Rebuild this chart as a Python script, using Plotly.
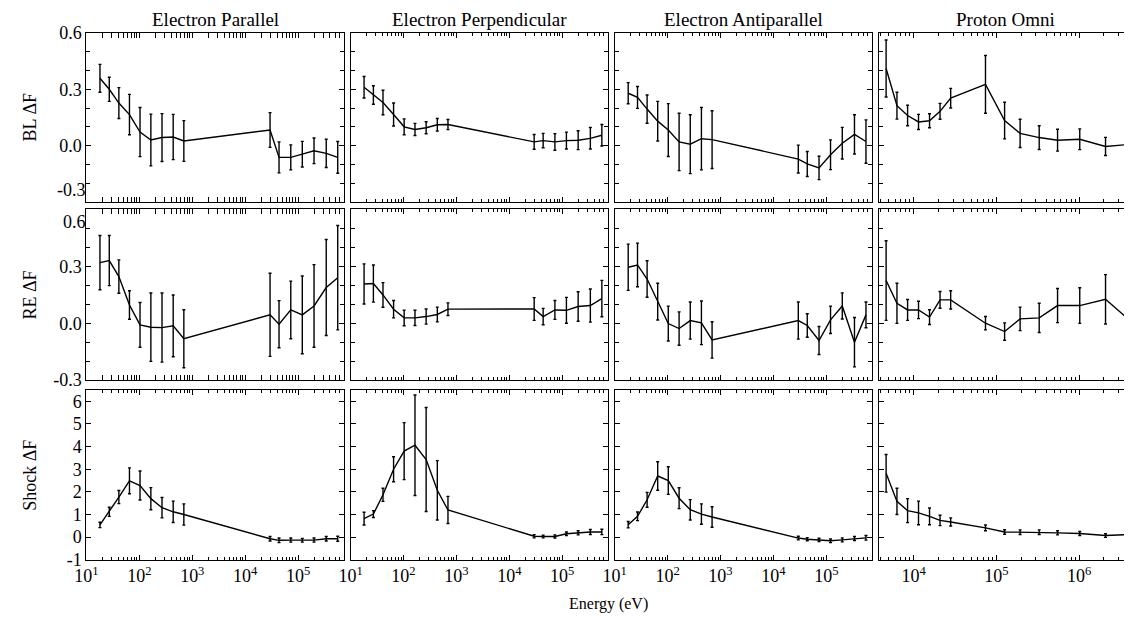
import plotly.graph_objects as go

# energy channels (eV)
e_electron = [18, 27, 41, 65, 103, 165, 268, 436, 693,
              29500, 43600, 72700, 120000, 200000, 340000, 561000]
e_proton = [4660, 6300, 8470, 11480, 15600, 20900, 28100, 74000,
            126000, 194000, 330000, 550000, 1020000, 2090000, 4370000]

col_titles = ["Electron Parallel", "Electron Perpendicular", "Electron Antiparallel", "Proton Omni"]
row_labels = ["BL \u0394F", "RE \u0394F", "Shock \u0394F"]

# BL
bl_par = [0.358, 0.300, 0.227, 0.166, 0.073, 0.031, 0.044, 0.047, 0.026,
          0.084, -0.061, -0.061, -0.044, -0.026, -0.040, -0.061]
bl_par_err = [0.074, 0.064, 0.082, 0.107, 0.130, 0.137, 0.127, 0.120, 0.108,
              0.092, 0.082, 0.066, 0.068, 0.068, 0.075, 0.084]
bl_perp = [0.311, 0.270, 0.230, 0.166, 0.101, 0.087, 0.096, 0.112, 0.113,
           0.021, 0.028, 0.021, 0.028, 0.030, 0.040, 0.056]
bl_perp_err = [0.057, 0.049, 0.065, 0.061, 0.042, 0.032, 0.032, 0.033, 0.027,
               0.039, 0.038, 0.044, 0.045, 0.050, 0.057, 0.057]
bl_anti = [0.279, 0.257, 0.195, 0.131, 0.084, 0.021, 0.009, 0.038, 0.033,
           -0.070, -0.096, -0.117, -0.047, 0.014, 0.061, 0.023]
bl_anti_err = [0.056, 0.058, 0.075, 0.105, 0.140, 0.152, 0.156, 0.165, 0.153,
               0.074, 0.066, 0.062, 0.079, 0.084, 0.104, 0.115]
bl_proton = [0.410, 0.213, 0.161, 0.127, 0.133, 0.183, 0.253, 0.326,
             0.134, 0.066, 0.044, 0.030, 0.035, -0.003, 0.009]
bl_proton_err = [0.151, 0.071, 0.054, 0.040, 0.037, 0.042, 0.052, 0.153,
                 0.097, 0.075, 0.063, 0.058, 0.055, 0.048, 0.050]

# RE
re_par = [0.319, 0.330, 0.246, 0.096, -0.009, -0.021, -0.023, -0.014, -0.082,
          0.044, -0.005, 0.070, 0.044, 0.091, 0.188, 0.240]
re_par_err = [0.143, 0.132, 0.088, 0.075, 0.118, 0.180, 0.182, 0.163, 0.153,
              0.219, 0.124, 0.152, 0.205, 0.218, 0.253, 0.275]
re_perp = [0.207, 0.209, 0.149, 0.074, 0.028, 0.028, 0.035, 0.046, 0.074,
           0.075, 0.035, 0.070, 0.068, 0.088, 0.093, 0.130]
re_perp_err = [0.106, 0.098, 0.065, 0.046, 0.041, 0.040, 0.040, 0.039, 0.033,
               0.060, 0.043, 0.050, 0.068, 0.078, 0.087, 0.096]
re_anti = [0.295, 0.307, 0.233, 0.114, -0.002, -0.028, 0.014, 0.002, -0.088,
           0.014, -0.012, -0.091, 0.018, 0.091, -0.100, 0.044]
re_anti_err = [0.122, 0.115, 0.096, 0.097, 0.092, 0.088, 0.098, 0.115, 0.096,
               0.098, 0.062, 0.074, 0.072, 0.069, 0.130, 0.068]
re_proton = [0.225, 0.105, 0.070, 0.070, 0.032, 0.123, 0.123, 0.000,
             -0.044, 0.023, 0.028, 0.093, 0.093, 0.126, 0.005]
re_proton_err = [0.210, 0.106, 0.055, 0.046, 0.039, 0.044, 0.048, 0.035,
                 0.046, 0.062, 0.077, 0.090, 0.094, 0.130, 0.102]

# Shock
shock_par = [0.54, 1.12, 1.77, 2.49, 2.28, 1.70, 1.30, 1.12, 1.00,
             -0.07, -0.14, -0.13, -0.14, -0.13, -0.07, -0.07]
shock_par_err = [0.12, 0.20, 0.29, 0.57, 0.64, 0.49, 0.45, 0.47, 0.47,
                 0.10, 0.10, 0.09, 0.08, 0.09, 0.10, 0.11]
shock_perp = [0.82, 1.02, 1.87, 3.00, 3.80, 4.06, 3.43, 2.07, 1.20,
              0.04, 0.03, 0.03, 0.15, 0.19, 0.23, 0.23]
shock_perp_err = [0.28, 0.15, 0.29, 0.55, 1.26, 2.22, 2.30, 1.31, 0.60,
                  0.07, 0.06, 0.07, 0.08, 0.09, 0.11, 0.12]
shock_anti = [0.55, 0.92, 1.65, 2.70, 2.50, 1.72, 1.21, 1.02, 0.89,
              -0.04, -0.09, -0.12, -0.16, -0.12, -0.06, -0.03]
shock_anti_err = [0.14, 0.19, 0.33, 0.63, 0.61, 0.46, 0.45, 0.45, 0.45,
                  0.08, 0.07, 0.07, 0.08, 0.09, 0.09, 0.10]
shock_proton = [2.82, 1.58, 1.17, 1.07, 0.92, 0.74, 0.67, 0.41,
                0.23, 0.22, 0.22, 0.19, 0.16, 0.07, 0.12]
shock_proton_err = [0.83, 0.58, 0.53, 0.52, 0.37, 0.23, 0.18, 0.13,
                    0.10, 0.10, 0.10, 0.09, 0.09, 0.08, 0.07]

dF_ticks = [-0.3, 0.0, 0.3, 0.6]
dF_ticktext = ["-0.3", "0.0", "0.3", "0.6"]
shock_ticks = [-1, 0, 1, 2, 3, 4, 5, 6]
shock_ticktext = ["-1", "0", "1", "2", "3", "4", "5", "6"]
e_ticks = [10, 100, 1000, 10000, 100000]
e_ticktext = ["10<sup>1</sup>", "10<sup>2</sup>", "10<sup>3</sup>", "10<sup>4</sup>", "10<sup>5</sup>"]
p_ticks = [10000, 100000, 1000000]
p_ticktext = ["10<sup>4</sup>", "10<sup>5</sup>", "10<sup>6</sup>"]

panels = [
    [(e_electron, bl_par, bl_par_err), (e_electron, bl_perp, bl_perp_err),
     (e_electron, bl_anti, bl_anti_err), (e_proton, bl_proton, bl_proton_err)],
    [(e_electron, re_par, re_par_err), (e_electron, re_perp, re_perp_err),
     (e_electron, re_anti, re_anti_err), (e_proton, re_proton, re_proton_err)],
    [(e_electron, shock_par, shock_par_err), (e_electron, shock_perp, shock_perp_err),
     (e_electron, shock_anti, shock_anti_err), (e_proton, shock_proton, shock_proton_err)],
]

# figure kept a little under the window size so the page does not overflow
W, H = 1124, 612
REF_W, REF_H = 1132, 620
FONT = "Liberation Serif"
col_px = [(79, 338), (345, 604), (611, 870), (877, 1132)]
row_px = [(25, 197), (204, 377), (387, 559)]
x_ranges = [[1, 5.86], [1, 5.86], [1, 5.86], [3.58, 6.64]]
y_ranges = [[-0.3, 0.6], [-0.3, 0.6], [-1, 6.5]]


def fx(px):
    return px / REF_W


def fy(py):
    return 1 - py / REF_H


fig = go.Figure()
layout = {}

for r in range(3):
    for c in range(4):
        k = r * 4 + 1 + c
        xs, ys, err = panels[r][c]
        fig.add_trace(go.Scatter(
            x=xs, y=ys, mode='lines',
            line=dict(color='black', width=1.4),
            error_y=dict(type='data', array=err, color='black', thickness=1.4, width=1.5),
            xaxis=f'x{k}', yaxis=f'y{k}', showlegend=False
        ))
        x0, x1 = col_px[c]
        y0, y1 = row_px[r]
        tv, tt = (p_ticks, p_ticktext) if c == 3 else (e_ticks, e_ticktext)
        layout[f'xaxis{k}'] = dict(
            type='log', range=x_ranges[c], domain=[fx(x0), min(fx(x1), 1)], anchor=f'y{k}',
            tickmode='array', tickvals=tv, ticktext=tt, showticklabels=(r == 2),
            ticks='inside', ticklen=5, tickcolor='black', mirror='allticks',
            showline=True, linecolor='black', linewidth=1, showgrid=False, zeroline=False,
            minor=dict(ticks='inside', ticklen=3, tickcolor='black', dtick='D1', showgrid=False),
            tickfont=dict(family=FONT, size=18, color='black'), automargin=False
        )
        if r < 2:
            tv, tt = list(dF_ticks), list(dF_ticktext)
            if r == 0:
                tv, tt = tv[1:], tt[1:]
            else:
                tv, tt = tv[:-1], tt[:-1]
            minor = dict(ticks='inside', ticklen=4, tickcolor='black', dtick=0.1, tick0=0, showgrid=False)
        else:
            tv, tt = shock_ticks, shock_ticktext
            minor = None
        ydict = dict(
            range=y_ranges[r], domain=[fy(y1), fy(y0)], anchor=f'x{k}',
            tickmode='array', tickvals=tv, ticktext=tt, showticklabels=(c == 0),
            ticks='inside', ticklen=5, tickcolor='black', mirror='allticks',
            showline=True, linecolor='black', linewidth=1, showgrid=False, zeroline=False,
            tickfont=dict(family=FONT, size=18, color='black'), automargin=False
        )
        if minor:
            ydict['minor'] = minor
        layout[f'yaxis{k}'] = ydict

# end labels shifted inside the frame so neighbouring rows do not collide
for n, (base, val, txt, pos) in enumerate([(1, dF_ticks[0], dF_ticktext[0], 'outside top'),
                                           (5, dF_ticks[-1], dF_ticktext[-1], 'outside bottom')]):
    k = 13 + n
    fig.add_trace(go.Scatter(x=[], y=[], xaxis=f'x{base}', yaxis=f'y{k}', showlegend=False))
    layout[f'yaxis{k}'] = dict(
        range=y_ranges[0], overlaying=f'y{base}', anchor=f'x{base}', side='left',
        tickmode='array', tickvals=[val], ticktext=[txt], ticklabelposition=pos,
        ticks='', showline=False, showgrid=False, zeroline=False, automargin=False,
        tickfont=dict(family=FONT, size=18, color='black')
    )

annotations = []
for c, title in enumerate(col_titles):
    annotations.append(dict(
        text=title, x=fx((col_px[c][0] + col_px[c][1]) / 2), y=fy(12),
        xref='paper', yref='paper', xanchor='center', yanchor='middle', showarrow=False,
        font=dict(family=FONT, size=19, color='black')
    ))
for r, lab in enumerate(row_labels):
    annotations.append(dict(
        text=lab, x=fx(22), y=fy((row_px[r][0] + row_px[r][1]) / 2),
        xref='paper', yref='paper', xanchor='center', yanchor='middle',
        showarrow=False, textangle=-90,
        font=dict(family=FONT, size=18, color='black')
    ))
annotations.append(dict(
    text='Energy (eV)', x=fx(605), y=fy(604), xref='paper', yref='paper',
    xanchor='center', yanchor='middle',
    showarrow=False, font=dict(family=FONT, size=16, color='black')
))

fig.update_layout(
    **layout,
    annotations=annotations,
    width=W, height=H,
    margin=dict(l=0, r=0, t=0, b=0, autoexpand=False),
    plot_bgcolor='white', paper_bgcolor='white',
    font=dict(family=FONT, color='black'),
    showlegend=False
)

fig.write_html("out.html")
